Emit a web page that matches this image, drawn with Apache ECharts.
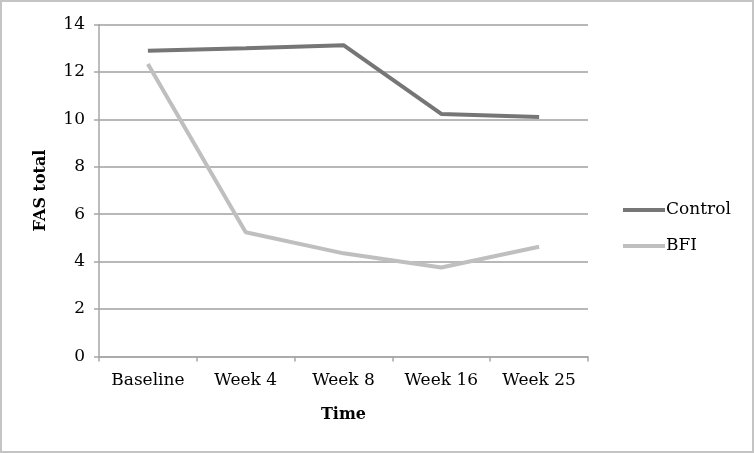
<!DOCTYPE html>
<html><head><meta charset="utf-8">
<script src="https://cdn.jsdelivr.net/npm/echarts@6/dist/echarts.min.js"></script>
<style>html,body{margin:0;padding:0;background:#fff}#c{width:754px;height:453px;box-sizing:border-box;border:2px solid #c4c4c4}</style>
</head><body><div id="c"></div>
<script>
var categories = ['Baseline', 'Week 4', 'Week 8', 'Week 16', 'Week 25'];
var control = [12.89, 13.0, 13.13, 10.23, 10.1];
var bfi = [12.33, 5.24, 4.35, 3.75, 4.63];
var yTicks = [0, 2, 4, 6, 8, 10, 12, 14];

var font = 'DejaVu Serif';
var chart = echarts.init(document.getElementById('c'));
chart.setOption({
  animation: false,
  grid: { left: 97, right: 164, top: 22.5, bottom: 94.5, containLabel: false },
  legend: {
    orient: 'vertical', left: 616, top: 193,
    icon: 'rect', itemWidth: 42, itemHeight: 4, itemGap: 16,
    textStyle: { fontFamily: font, fontSize: 17, color: '#000', padding: [0,0,0,-4], lineHeight: 20 },
    data: ['Control', 'BFI']
  },
  xAxis: {
    type: 'category', data: categories, boundaryGap: true,
    name: 'Time', nameLocation: 'middle', nameGap: 50,
    nameTextStyle: { fontFamily: font, fontSize: 16, fontWeight: 'bold', color: '#000' },
    axisLine: { lineStyle: { color: '#a6a6a6', width: 1.5 } },
    axisTick: { show: true, length: 5, lineStyle: { color: '#a6a6a6', width: 1.5 } },
    axisLabel: { fontFamily: font, fontSize: 17, color: '#000', margin: 16 }
  },
  yAxis: {
    type: 'value', min: 0, max: 14, interval: 2,
    name: 'FAS total', nameLocation: 'middle', nameGap: 50, nameRotate: 90,
    nameTextStyle: { fontFamily: font, fontSize: 16, fontWeight: 'bold', color: '#000' },
    axisLine: { show: true, lineStyle: { color: '#a6a6a6', width: 1.5 } },
    axisTick: { show: true, length: 5, lineStyle: { color: '#a6a6a6', width: 1.5 } },
    axisLabel: { fontFamily: font, fontSize: 17, color: '#000', margin: 14,
      formatter: function (v) { return yTicks.indexOf(v) >= 0 ? String(v) : ''; } },
    splitLine: { lineStyle: { color: '#a0a0a0', width: 1.5 } }
  },
  series: [
    { name: 'Control', type: 'line', data: control, symbol: 'none',
      lineStyle: { color: '#767676', width: 4 }, itemStyle: { color: '#767676' } },
    { name: 'BFI', type: 'line', data: bfi, symbol: 'none',
      lineStyle: { color: '#bfbfbf', width: 4 }, itemStyle: { color: '#bfbfbf' } }
  ]
});
</script></body></html>
